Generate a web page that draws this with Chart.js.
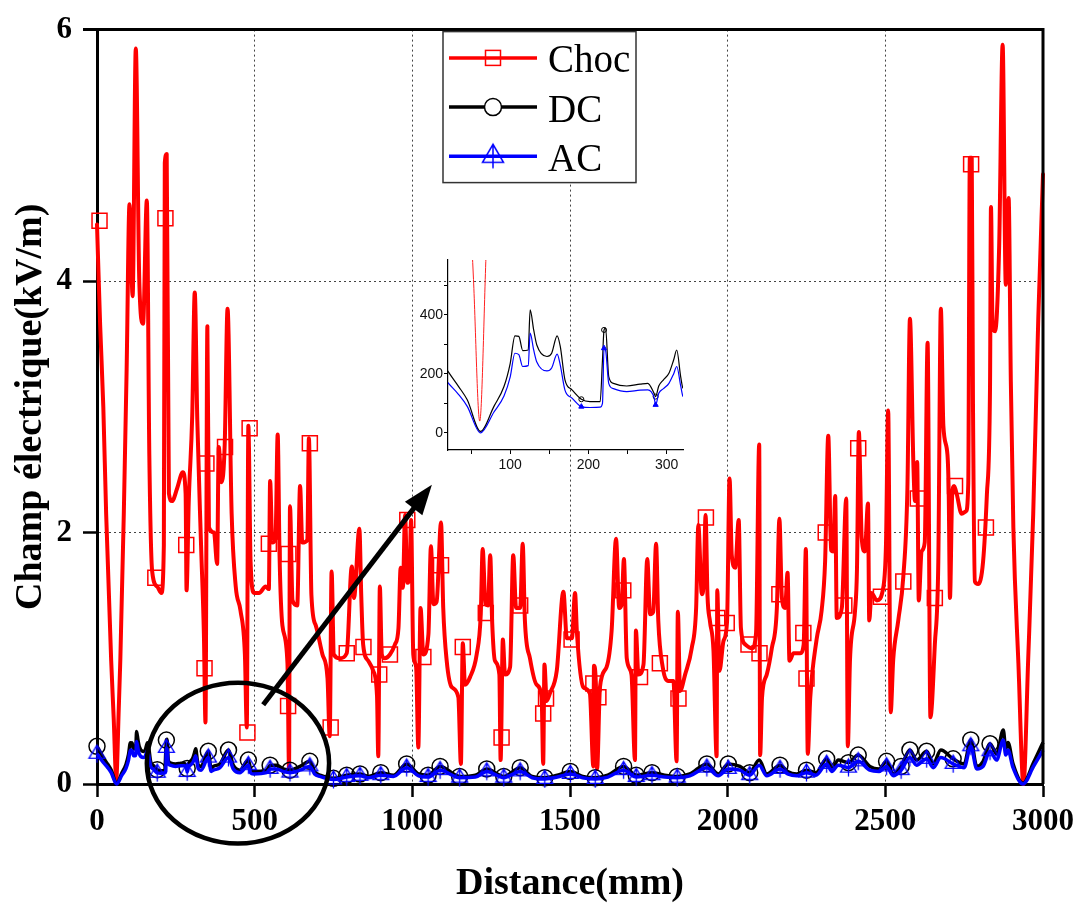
<!DOCTYPE html>
<html>
<head>
<meta charset="utf-8">
<script src="https://cdn.jsdelivr.net/npm/chart.js@4.4.0/dist/chart.umd.min.js"></script>
<style>
  body { margin: 0; background: #fff; }
  #wrap { position: relative; width: 1083px; height: 907px; }
  #main { position: absolute; left: 0; top: 0; }
  #inset { position: absolute; left: 400px; top: 250px; }
</style>
</head>
<body>
<div id="wrap">
  <canvas id="main" width="1083" height="907"></canvas>
  <canvas id="inset" width="300" height="230"></canvas>
</div>
<script>
// ---- data (kV/m vs mm) ----
const xTicks = [0, 500, 1000, 1500, 2000, 2500, 3000];
const yTicks = [0, 2, 4, 6];
const insetXTicks = [50, 100, 150, 200, 250, 300];
const insetYTicks = [0, 100, 200, 300, 400, 500];

const chocX = [
  0, 10, 20, 29, 45, 53, 61, 69, 74, 85, 94, 103,
  113, 123, 134, 146, 158, 166, 175, 191, 204, 212,
  215, 221, 228, 238, 254, 272, 281, 284, 291, 302,
  310, 318, 330, 339, 344, 350, 355, 371, 381, 386,
  395, 405, 414, 427, 440, 455, 469, 475, 480, 487,
  498, 514, 535, 545, 549, 556, 566, 573, 579, 588,
  604, 609, 612, 620, 635, 644, 651, 667, 672, 680,
  694, 715, 731, 738, 744, 751, 770, 792, 808, 815,
  832, 838, 844, 860, 876, 888, 892, 897, 903, 913,
  929, 945, 956, 963, 970, 977, 984, 991, 996, 1003,
  1012, 1019, 1026, 1035, 1051, 1059, 1067, 1077, 1091, 1098,
  1109, 1125, 1146, 1154, 1160, 1167, 1183, 1204, 1217, 1223,
  1232, 1240, 1247, 1253, 1262, 1276, 1280, 1287, 1294, 1310,
  1320, 1329, 1342, 1350, 1357, 1373, 1394, 1410, 1415, 1419,
  1426, 1436, 1458, 1479, 1490, 1506, 1516, 1522, 1542, 1563,
  1574, 1576, 1582, 1586, 1595, 1616, 1632, 1646, 1656, 1664,
  1671, 1680, 1695, 1706, 1709, 1717, 1733, 1745, 1754, 1764,
  1773, 1780, 1794, 1812, 1828, 1838, 1842, 1849, 1865, 1886,
  1900, 1907, 1918, 1924, 1930, 1936, 1944, 1955, 1965, 1967,
  1974, 1987, 1998, 2006, 2013, 2024, 2035, 2042, 2056, 2077,
  2090, 2100, 2103, 2109, 2124, 2140, 2156, 2164, 2172, 2182,
  2190, 2196, 2209, 2230, 2241, 2248, 2254, 2262, 2282, 2298,
  2309, 2319, 2328, 2335, 2341, 2346, 2362, 2376, 2381, 2388,
  2404, 2410, 2416, 2425, 2435, 2445, 2449, 2456, 2473, 2494,
  2502, 2509, 2517, 2525, 2541, 2557, 2570, 2578, 2589, 2594,
  2601, 2606, 2615, 2625, 2634, 2643, 2657, 2668, 2676, 2684,
  2697, 2701, 2705, 2712, 2718, 2726, 2742, 2756, 2763, 2768,
  2774, 2778, 2784, 2794, 2810, 2822, 2832, 2835, 2840, 2848,
  2861, 2872, 2882, 2891, 2898, 2906, 2922, 2938, 2953, 2969,
  2985, 3000
];
const chocY = [
  4.45, 3.65, 3.0, 2.15, 0.98, 0.52, 0.04, 0.6, 0.99, 2.15, 3.3, 4.61,
  3.88, 5.85, 4.01, 3.66, 4.64, 2.6, 1.69, 1.57, 1.52, 1.9,
  4.94, 5.01, 2.31, 2.25, 2.35, 2.48, 2.31, 1.54, 2.25, 2.93,
  3.91, 2.9, 1.9, 1.19, 0.49, 3.64, 2.04, 2.0, 1.75, 2.68,
  2.4, 2.7, 3.78, 2.15, 1.57, 1.38, 1.03, 0.45, 2.85, 1.77,
  1.52, 1.52, 1.57, 1.55, 2.41, 1.92, 1.95, 2.78, 1.81, 1.26,
  0.96, 0.12, 2.21, 1.46, 1.42, 2.37, 1.92, 1.94, 2.75, 1.5,
  1.26, 1.03, 0.84, 0.38, 1.69, 1.03, 1.0, 1.04, 1.73, 1.48,
  2.03, 1.5, 1.11, 0.98, 0.9, 0.7, 0.22, 1.57, 1.03, 1.0,
  1.03, 1.11, 1.24, 1.72, 1.56, 2.14, 1.6, 1.65, 2.1, 1.03,
  0.93, 0.29, 1.4, 1.03, 1.19, 1.89, 1.43, 1.45, 2.08, 1.4,
  0.98, 0.77, 0.69, 0.16, 1.12, 0.79, 0.85, 1.03, 1.35, 1.87,
  1.43, 1.42, 1.82, 1.3, 0.98, 0.87, 0.19, 1.15, 0.87, 0.93,
  1.82, 1.4, 1.4, 1.91, 1.3, 1.0, 0.79, 0.69, 0.16, 0.95,
  0.66, 0.72, 0.9, 1.53, 1.16, 1.16, 1.52, 1.2, 0.77, 0.72,
  0.14, 0.94, 0.8, 0.12, 0.77, 0.93, 1.22, 1.95, 1.4, 1.43,
  1.79, 1.0, 0.87, 0.19, 1.22, 0.87, 0.95, 1.79, 1.35, 1.37,
  1.91, 1.3, 0.93, 0.82, 0.82, 0.18, 1.37, 0.74, 0.87, 1.08,
  1.4, 2.06, 1.51, 1.6, 2.14, 1.5, 1.29, 1.06, 0.22, 1.54,
  0.9, 1.14, 1.29, 2.43, 1.82, 1.72, 2.1, 1.24, 1.11, 1.08,
  1.2, 2.7, 0.23, 0.69, 0.87, 1.08, 1.4, 2.11, 1.48, 1.4,
  1.68, 0.98, 1.04, 1.04, 1.11, 1.87, 0.24, 0.69, 1.15, 1.38,
  1.77, 2.77, 1.86, 1.85, 2.29, 1.32, 1.4, 2.27, 0.3, 0.99,
  1.38, 1.7, 2.8, 1.96, 1.85, 2.23, 1.3, 1.52, 1.46, 1.57,
  1.9, 2.97, 0.57, 0.99, 1.3, 1.65, 2.35, 3.7, 2.54, 2.25,
  2.56, 1.46, 1.85, 1.92, 3.51, 0.53, 1.11, 1.77, 3.78, 2.85,
  2.62, 2.31, 1.48, 2.3, 2.37, 2.31, 2.15, 2.17, 2.39, 4.98,
  4.98, 3.0, 1.61, 1.59, 1.77, 2.3, 3.16, 4.59, 3.66, 3.6,
  4.28, 5.88, 3.97, 4.66, 3.2, 2.04, 0.96, 0.0, 0.99, 2.15,
  3.7, 4.85
];

// square symbols of the Choc curve
const chocMarkX = [8, 185, 217, 283, 341, 347, 406, 477, 484, 545, 606, 607, 675, 741, 792, 845, 895, 929, 984, 1035,
  1091, 1160, 1233, 1283, 1342, 1415, 1424, 1505, 1574, 1590, 1669, 1722, 1785, 1844, 1931, 1967, 1997, 2066, 2101, 2164,
  2240, 2250, 2311, 2370, 2414, 2486, 2557, 2603, 2657, 2721, 2772, 2819];
const chocMarkY = [4.48, 1.64, 4.5, 1.9, 0.92, 2.55, 2.68, 0.41, 2.83, 1.91, 0.62, 1.83, 2.71, 0.45, 1.04, 1.09, 0.87, 1.03, 2.1, 1.01,
  1.74, 1.09, 1.36, 0.37, 1.42, 0.56, 0.68, 1.15, 0.8, 0.69, 1.54, 0.85, 0.96, 0.68, 2.12, 1.32, 1.28, 1.11, 1.04, 1.51,
  1.2, 0.84, 2.0, 1.42, 2.67, 1.49, 1.61, 2.27, 1.48, 2.37, 4.93, 2.04];

const fieldX = [
  0, 20, 34, 45, 62, 79, 92, 100, 106, 111,
  116, 123, 125.5, 130, 134, 147, 153, 160, 164, 170,
  179, 191, 202, 215, 218, 220, 222, 226, 232, 249,
  266, 276, 284, 286, 290, 296, 303, 309, 313, 318,
  321, 330, 353, 362, 369, 390, 417, 432, 453, 480,
  487, 496, 538, 549, 570, 590, 612, 644, 675, 690,
  707, 750, 792, 834, 860, 900, 940, 982, 1020, 1050,
  1088, 1150, 1200, 1236, 1290, 1342, 1380, 1420, 1460, 1501,
  1540, 1580, 1620, 1670, 1710, 1760, 1800, 1840, 1880, 1934,
  1970, 2002, 2039, 2070, 2100, 2124, 2166, 2190, 2219, 2250,
  2280, 2314, 2330, 2351, 2383, 2414, 2451, 2480, 2504, 2525,
  2550, 2578, 2599, 2631, 2652, 2676, 2715, 2750, 2771, 2790,
  2810, 2832, 2853, 2874, 2882, 2889, 2905, 2937, 2970, 3000
];
const dcY = [
  0.30, 0.21, 0.157, 0.112, 0.005, 0.089, 0.157, 0.236, 0.329, 0.327,
  0.279, 0.281, 0.417, 0.349, 0.298, 0.259, 0.27, 0.329, 0.293, 0.18,
  0.146, 0.114, 0.106, 0.106, 0.247, 0.349, 0.355, 0.191, 0.168, 0.159,
  0.165, 0.168, 0.134, 0.123, 0.159, 0.18, 0.202, 0.247, 0.281, 0.191,
  0.151, 0.14, 0.26, 0.12, 0.14, 0.16, 0.27, 0.15, 0.11, 0.19,
  0.12, 0.10, 0.11, 0.15, 0.15, 0.12, 0.11, 0.14, 0.18, 0.10,
  0.07, 0.045, 0.07, 0.08, 0.06, 0.09, 0.07, 0.16, 0.08, 0.07,
  0.14, 0.06, 0.07, 0.12, 0.06, 0.13, 0.06, 0.05, 0.07, 0.10,
  0.06, 0.05, 0.07, 0.14, 0.07, 0.09, 0.07, 0.06, 0.08, 0.16,
  0.08, 0.16, 0.14, 0.09, 0.19, 0.08, 0.15, 0.10, 0.08, 0.11,
  0.09, 0.20, 0.12, 0.19, 0.17, 0.23, 0.14, 0.12, 0.18, 0.08,
  0.14, 0.27, 0.19, 0.26, 0.16, 0.27, 0.20, 0.16, 0.35, 0.14,
  0.18, 0.32, 0.24, 0.43, 0.28, 0.33, 0.16, 0.005, 0.17, 0.33
];
const acY = [
  0.24, 0.171, 0.13, 0.09, 0.0, 0.07, 0.125, 0.19, 0.27, 0.265,
  0.225, 0.228, 0.338, 0.281, 0.24, 0.21, 0.22, 0.267, 0.23, 0.145,
  0.118, 0.089, 0.086, 0.087, 0.10, 0.287, 0.28, 0.168, 0.15, 0.14,
  0.145, 0.146, 0.12, 0.095, 0.134, 0.15, 0.168, 0.2, 0.225, 0.16,
  0.123, 0.11, 0.21, 0.10, 0.11, 0.13, 0.21, 0.12, 0.09, 0.15,
  0.09, 0.08, 0.09, 0.12, 0.12, 0.10, 0.09, 0.11, 0.14, 0.08,
  0.06, 0.035, 0.055, 0.065, 0.05, 0.07, 0.06, 0.13, 0.065, 0.055,
  0.11, 0.05, 0.055, 0.10, 0.05, 0.10, 0.05, 0.04, 0.055, 0.08,
  0.05, 0.04, 0.055, 0.11, 0.055, 0.07, 0.055, 0.05, 0.065, 0.13,
  0.065, 0.12, 0.11, 0.07, 0.15, 0.065, 0.12, 0.08, 0.065, 0.09,
  0.07, 0.16, 0.10, 0.15, 0.13, 0.18, 0.11, 0.10, 0.14, 0.065,
  0.11, 0.21, 0.15, 0.20, 0.13, 0.21, 0.16, 0.13, 0.30, 0.12,
  0.14, 0.26, 0.19, 0.35, 0.23, 0.27, 0.13, 0.0, 0.14, 0.27
];
// positions carrying a circle (DC) / triangle (AC) symbol
const fieldMarkX = [0, 191, 220, 286, 353, 417, 480, 549, 612, 675, 750, 792, 834, 900, 982, 1050, 1088, 1150, 1236, 1290,
  1342, 1420, 1501, 1580, 1670, 1710, 1760, 1840, 1934, 2002, 2070, 2166, 2250, 2314, 2383, 2414, 2504, 2550, 2578, 2631,
  2715, 2771, 2832];

// zoom ellipse and arrow, in data units
const zoomCircle = { x: 447, y: 0.166, rx: 289, ry: 0.64 };
const zoomArrow = { x0: 527, y0: 0.63, x1: 1062, y1: 2.38 };

const SERIF = '"Liberation Serif", "Times New Roman", serif';
const SANS = '"Liberation Sans", Arial, sans-serif';

const markSet = new Set(fieldMarkX);
const isMark = c => c.raw && markSet.has(c.raw.x);

const pts = (xs, ys, k) => xs.map((x, i) => ({ x: x, y: ys[i] * k }));

// triangle with a vertical stroke, used for AC symbols
function triMarker(w, h, color, lw) {
  const tail = h / 3, pad = lw + 1;
  const c = document.createElement('canvas');
  c.width = Math.ceil(w + pad * 2);
  c.height = Math.ceil(h + tail + pad * 2);
  const g = c.getContext('2d');
  const cx = c.width / 2;
  g.strokeStyle = color;
  g.lineWidth = lw;
  g.beginPath();
  g.moveTo(cx, pad);
  g.lineTo(cx + w / 2, pad + h);
  g.lineTo(cx - w / 2, pad + h);
  g.closePath();
  g.moveTo(cx, pad);
  g.lineTo(cx, pad + h + tail);
  g.stroke();
  return c;
}
const acMark = triMarker(16, 13, '#0000ff', 1.3);
const acLegendMark = triMarker(21, 18, '#0000ff', 1.5);

// main chart
const mainDecor = {
  id: 'mainDecor',
  afterDraw(chart) {
    const { ctx, chartArea: a, scales: { x, y } } = chart;
    ctx.save();
    // frame top + right
    ctx.strokeStyle = '#000';
    ctx.lineWidth = 3;
    ctx.beginPath();
    ctx.moveTo(a.left - 14, a.top);
    ctx.lineTo(a.right, a.top);
    ctx.lineTo(a.right, a.bottom);
    ctx.stroke();

    // ellipse around the zoomed zone
    const cx = x.getPixelForValue(zoomCircle.x), cy = y.getPixelForValue(zoomCircle.y);
    const rx = x.getPixelForValue(zoomCircle.x + zoomCircle.rx) - cx;
    const ry = cy - y.getPixelForValue(zoomCircle.y + zoomCircle.ry);
    ctx.lineWidth = 4.5;
    ctx.beginPath();
    ctx.ellipse(cx, cy, rx, ry, 0, 0, Math.PI * 2);
    ctx.stroke();

    // arrow
    const x0 = x.getPixelForValue(zoomArrow.x0), y0 = y.getPixelForValue(zoomArrow.y0);
    const x1 = x.getPixelForValue(zoomArrow.x1), y1 = y.getPixelForValue(zoomArrow.y1);
    const ang = Math.atan2(y1 - y0, x1 - x0);
    const hl = 30, hw = 11;
    const bx = x1 - hl * Math.cos(ang), by = y1 - hl * Math.sin(ang);
    ctx.lineWidth = 5;
    ctx.beginPath();
    ctx.moveTo(x0, y0);
    ctx.lineTo(bx + 4 * Math.cos(ang), by + 4 * Math.sin(ang));
    ctx.stroke();
    ctx.fillStyle = '#000';
    ctx.beginPath();
    ctx.moveTo(x1, y1);
    ctx.lineTo(bx + hw * Math.sin(ang), by - hw * Math.cos(ang));
    ctx.lineTo(bx - hw * Math.sin(ang), by + hw * Math.cos(ang));
    ctx.closePath();
    ctx.fill();

    // legend
    const lx = a.left + 346, ly = a.top + 2, lw = 193, lh = 151;
    ctx.fillStyle = '#fff';
    ctx.fillRect(lx, ly, lw, lh);
    ctx.strokeStyle = '#333';
    ctx.lineWidth = 1.5;
    ctx.strokeRect(lx, ly, lw, lh);
    const rows = [
      { label: 'Choc', color: '#ff0000' },
      { label: 'DC', color: '#000000' },
      { label: 'AC', color: '#0000ff' }
    ];
    rows.forEach((r, i) => {
      const ry0 = ly + 26.3 + i * 49.2;
      const mx = lx + 50;
      ctx.strokeStyle = r.color;
      ctx.lineWidth = 3.5;
      ctx.beginPath();
      ctx.moveTo(lx + 6, ry0);
      ctx.lineTo(lx + 94, ry0);
      ctx.stroke();
      ctx.lineWidth = 1.5;
      if (i === 0) {
        ctx.strokeRect(mx - 7.5, ry0 - 7.5, 15, 15);
      } else if (i === 1) {
        ctx.fillStyle = '#fff';
        ctx.beginPath();
        ctx.arc(mx, ry0, 8.5, 0, Math.PI * 2);
        ctx.fill();
        ctx.stroke();
      } else {
        ctx.drawImage(acLegendMark, mx - acLegendMark.width / 2, ry0 - acLegendMark.height / 2);
      }
      ctx.fillStyle = '#000';
      ctx.font = '39px ' + SERIF;
      ctx.textBaseline = 'alphabetic';
      ctx.textAlign = 'left';
      ctx.fillText(r.label, lx + 105, ry0 + 14.5);
    });
    ctx.restore();
  }
};

const hideEdge = (lo, hi) => c => (c.tick && (c.tick.value === lo || c.tick.value === hi)) ? 'rgba(0,0,0,0)' : '#444';

new Chart(document.getElementById('main'), {
  type: 'line',
  data: {
    datasets: [
      {
        label: 'Choc', data: pts(chocX, chocY, 1), borderColor: '#ff0000', borderWidth: 4,
        pointRadius: 0, cubicInterpolationMode: 'monotone', borderJoinStyle: 'round', borderCapStyle: 'round',
        clip: false, order: 4
      },
      {
        label: 'Choc symbols', data: pts(chocMarkX, chocMarkY, 1), showLine: false, pointStyle: 'rect',
        pointRadius: 10.6, pointBorderColor: '#ff0000', pointBorderWidth: 1.5,
        pointBackgroundColor: 'rgba(0,0,0,0)', clip: false, order: 3
      },
      {
        label: 'DC', data: pts(fieldX, dcY, 1), borderColor: '#000', borderWidth: 3.5,
        pointStyle: 'circle', pointRadius: c => isMark(c) ? 8 : 0, pointBorderColor: '#000',
        pointBorderWidth: 1.5, pointBackgroundColor: 'rgba(0,0,0,0)',
        cubicInterpolationMode: 'monotone', borderJoinStyle: 'round', clip: false, order: 2
      },
      {
        label: 'AC', data: pts(fieldX, acY, 1), borderColor: '#0000ff', borderWidth: 3.5,
        pointStyle: acMark, pointRadius: c => isMark(c) ? 8 : 0,
        cubicInterpolationMode: 'monotone', borderJoinStyle: 'round', clip: false, order: 1
      }
    ]
  },
  options: {
    responsive: false,
    animation: false,
    events: [],
    layout: { padding: { top: 24, right: 40, left: 0, bottom: 0 } },
    plugins: { legend: { display: false }, tooltip: { enabled: false } },
    scales: {
      x: {
        type: 'linear', min: 0, max: 3000,
        afterFit: s => { s.height = 123; },
        afterBuildTicks: s => { s.ticks = xTicks.map(v => ({ value: v })); },
        ticks: {
          font: { family: SERIF, size: 31, weight: 'bold' }, color: '#000', padding: 6,
          maxRotation: 0, autoSkip: false, callback: v => String(v)
        },
        grid: { color: hideEdge(0, 3000), lineWidth: 1, tickLength: 13, tickWidth: 2.5, tickColor: '#000' },
        border: { display: true, width: 3, color: '#000', dash: [2, 3] },
        title: {
          display: true, text: 'Distance(mm)', color: '#000',
          font: { family: SERIF, size: 38, weight: 'bold' }, padding: { top: 0, bottom: 0 }
        }
      },
      y: {
        type: 'linear', min: 0, max: 6,
        afterFit: s => { s.width = 97; },
        afterBuildTicks: s => { s.ticks = yTicks.map(v => ({ value: v })); },
        ticks: {
          font: { family: SERIF, size: 31, weight: 'bold' }, color: '#000', padding: 11,
          autoSkip: false, callback: v => String(v)
        },
        grid: { color: hideEdge(0, 6), lineWidth: 1, tickLength: 14, tickWidth: 2.5, tickColor: '#000' },
        border: { display: true, width: 3, color: '#000', dash: [2, 3] },
        title: {
          display: true, text: 'Champ électrique(kV/m)', color: '#000',
          font: { family: SERIF, size: 38, weight: 'bold' }, padding: { top: 8, bottom: 0 }
        }
      }
    }
  },
  plugins: [mainDecor]
});

// inset: first 320 mm, in V/m
new Chart(document.getElementById('inset'), {
  type: 'line',
  data: {
    datasets: [
      {
        label: 'Choc', data: pts(chocX, chocY, 1000), borderColor: '#ff2020', borderWidth: 1,
        pointRadius: 0, cubicInterpolationMode: 'monotone', order: 3
      },
      {
        label: 'DC', data: pts(fieldX, dcY, 1000), borderColor: '#000', borderWidth: 1.2,
        pointStyle: 'circle', pointRadius: c => isMark(c) ? 2.5 : 0, pointBorderColor: '#000',
        pointBorderWidth: 1, pointBackgroundColor: 'rgba(0,0,0,0)',
        cubicInterpolationMode: 'monotone', order: 2
      },
      {
        label: 'AC', data: pts(fieldX, acY, 1000), borderColor: '#0000ff', borderWidth: 1.2,
        pointStyle: 'triangle', pointRadius: c => isMark(c) ? 3 : 0, pointBorderColor: '#0000ff',
        pointBorderWidth: 1, pointBackgroundColor: '#0000ff',
        cubicInterpolationMode: 'monotone', order: 1
      }
    ]
  },
  options: {
    responsive: false,
    animation: false,
    events: [],
    layout: { padding: { top: 10, right: 17, left: 0, bottom: 0 } },
    plugins: { legend: { display: false }, tooltip: { enabled: false } },
    scales: {
      x: {
        type: 'linear', min: 20.4, max: 321,
        afterFit: s => { s.height = 30; },
        afterBuildTicks: s => { s.ticks = insetXTicks.map(v => ({ value: v })); },
        ticks: {
          font: { family: SANS, size: 14 }, color: '#111', padding: 3, maxRotation: 0, autoSkip: false,
          callback: v => v % 100 === 0 ? String(v) : ''
        },
        grid: { drawOnChartArea: false, tickLength: 4, tickWidth: 1, tickColor: '#000' },
        border: { display: true, width: 1.2, color: '#000' }
      },
      y: {
        type: 'linear', min: -58, max: 586,
        afterFit: s => { s.width = 48; },
        afterBuildTicks: s => { s.ticks = insetYTicks.map(v => ({ value: v })); },
        ticks: {
          font: { family: SANS, size: 14 }, color: '#111', padding: 1, autoSkip: false,
          callback: v => v % 200 === 0 ? String(v) : ''
        },
        grid: { drawOnChartArea: false, tickLength: 4, tickWidth: 1, tickColor: '#000' },
        border: { display: true, width: 1.2, color: '#000' }
      }
    }
  }
});
</script>
</body>
</html>
